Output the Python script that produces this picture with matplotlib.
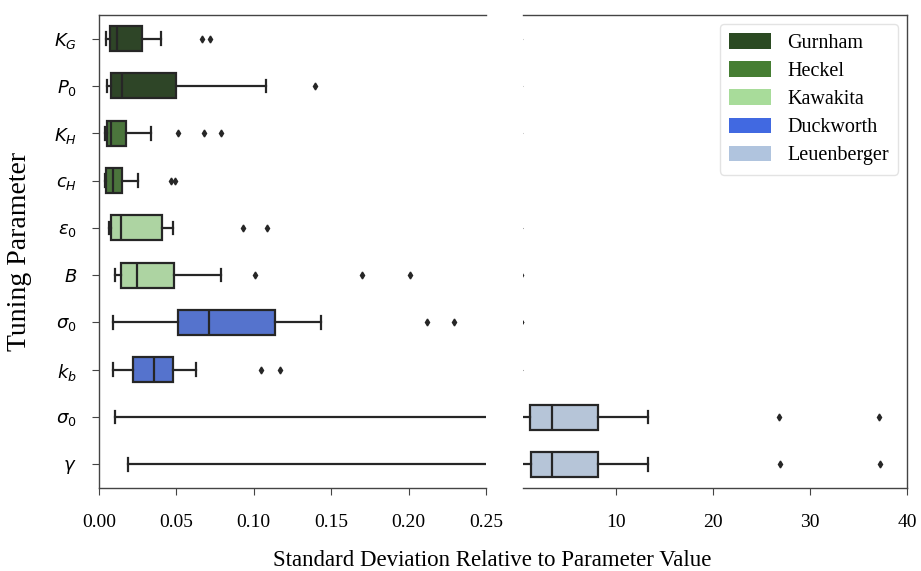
import colorsys
import matplotlib
matplotlib.use("Agg")
import matplotlib.pyplot as plt
import matplotlib.colors as mcolors
from matplotlib.patches import Patch

plt.rcParams['font.family'] = ['Liberation Serif', 'DejaVu Serif']
plt.rcParams['mathtext.fontset'] = 'dejavusans'

# one row per tuning parameter, top to bottom
params = [r'$K_G$', r'$P_0$', r'$K_H$', r'$c_H$', r'$\varepsilon_0$', r'$B$',
          r'$\sigma_0$', r'$k_b$', r'$\sigma_0$', r'$\gamma$']
model = ['Gurnham', 'Gurnham', 'Heckel', 'Heckel', 'Kawakita', 'Kawakita',
         'Duckworth', 'Duckworth', 'Leuenberger', 'Leuenberger']

whislo = [0.0045, 0.0054, 0.0041, 0.0037, 0.0067, 0.0105, 0.0093, 0.0093, 0.0103, 0.0187]
q1 = [0.0069, 0.0075, 0.0050, 0.0045, 0.0080, 0.0140, 0.0512, 0.0222, 1.13, 1.24]
med = [0.0116, 0.0150, 0.0078, 0.0092, 0.0140, 0.0247, 0.0711, 0.0357, 3.4, 3.4]
q3 = [0.0280, 0.0497, 0.0172, 0.0149, 0.0409, 0.0482, 0.1135, 0.0478, 8.15, 8.2]
whishi = [0.0400, 0.1080, 0.0334, 0.0252, 0.0478, 0.0788, 0.1434, 0.0624, 13.3, 13.3]
fliers = [[0.0665, 0.0717], [0.1395], [0.051, 0.068, 0.0786], [0.0465, 0.049],
          [0.0928, 0.1087], [0.1008, 0.170, 0.201], [0.2117, 0.2293],
          [0.1049, 0.1169], [26.8, 37.1], [26.9, 37.2]]

models = ['Gurnham', 'Heckel', 'Kawakita', 'Duckworth', 'Leuenberger']
colors = ['#2b4a22', '#467e33', '#a8dc9a', '#4169e1', '#b0c4de']


def desaturate(c, prop=0.75):
    h, l, s = colorsys.rgb_to_hls(*mcolors.to_rgb(c))
    return colorsys.hls_to_rgb(h, l, s * prop)


color_of = dict(zip(models, colors))
edge = '#262626'

stats = []
for i in range(len(params)):
    stats.append(dict(whislo=whislo[i], q1=q1[i], med=med[i], q3=q3[i],
                      whishi=whishi[i], fliers=fliers[i]))

fig = plt.figure(figsize=(9.21, 5.71), dpi=100)
ax1 = fig.add_axes([99 / 921, 1 - 488 / 571, (486 - 99) / 921, (488 - 15) / 571])
ax2 = fig.add_axes([523 / 921, 1 - 488 / 571, (907 - 523) / 921, (488 - 15) / 571])

for ax in (ax1, ax2):
    pos = list(range(len(params)))
    bp = ax.bxp(stats, positions=pos, vert=False, widths=0.53, patch_artist=True,
                boxprops=dict(edgecolor=edge, linewidth=1.6),
                medianprops=dict(color=edge, linewidth=1.6),
                whiskerprops=dict(color=edge, linewidth=1.6),
                capprops=dict(color=edge, linewidth=1.6),
                flierprops=dict(marker='d', markerfacecolor=edge, markeredgecolor=edge,
                                markersize=3.5, linestyle='none'))
    for patch, m in zip(bp['boxes'], model):
        patch.set_facecolor(desaturate(color_of[m]))
    ax.set_ylim(len(params) - 0.5, -0.5)
    for s in ax.spines.values():
        s.set_color('#444444')
        s.set_linewidth(1.0)
    ax.tick_params(colors='#444444', labelcolor='black', labelsize=14)

ax1.set_xlim(0, 0.25)
ax1.set_xticks([0.0, 0.05, 0.10, 0.15, 0.20, 0.25])
ax1.set_xticklabels(['0.00', '0.05', '0.10', '0.15', '0.20', '0.25'])
ax1.set_yticks(range(len(params)))
ax1.set_yticklabels(params, fontsize=13)
ax1.spines['right'].set_visible(False)
ax1.tick_params(axis='y', length=5, pad=11)
ax1.tick_params(axis='x', length=5, pad=14)
ax1.set_ylabel('Tuning Parameter', fontsize=20)
ax1.yaxis.set_label_coords(-0.172, 0.5)

ax2.set_xlim(0.43, 40)
ax2.set_xticks([10, 20, 30, 40])
ax2.spines['left'].set_visible(False)
ax2.set_yticks([])
ax2.tick_params(axis='x', length=5, pad=14)

handles = [Patch(facecolor=c, edgecolor='none', label=m) for m, c in zip(models, colors)]
ax2.legend(handles=handles, loc='upper right', fontsize=14.5, framealpha=0.8,
           edgecolor='#dddddd', fancybox=True, handlelength=2.1, handleheight=0.8,
           borderpad=0.45, labelspacing=0.42, handletextpad=0.8, borderaxespad=0.45)

fig.text(492 / 921, 1 - 560 / 571, 'Standard Deviation Relative to Parameter Value',
         ha='center', va='center', fontsize=16.5)

fig.savefig('out.png', dpi=100)
